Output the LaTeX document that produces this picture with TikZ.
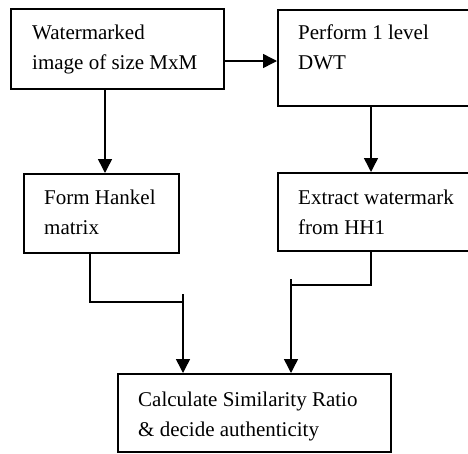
\documentclass[tikz,border=0pt]{standalone}
\usepackage{fontspec}
\setmainfont{Liberation Serif}
\usetikzlibrary{arrows.meta,calc}
\begin{document}
\begin{tikzpicture}[x=1pt,y=-1pt,
  box/.style={draw=black,line width=1.7pt,rectangle,inner sep=0pt,anchor=north west},
  txt/.style={inner sep=0pt,anchor=north west,align=left,font=\fontsize{21}{30}\selectfont},
  conn/.style={draw=black,line width=1.5pt},
  arr/.style={conn,-{Triangle[length=14pt,width=14pt]}}]
\clip (0,0) rectangle (468,453);
\fill[white] (0,0) rectangle (468,453);
% boxes
\node[box,minimum width=213pt,minimum height=80pt] (b1) at (10,8) {};
\node[box,minimum width=210pt,minimum height=96pt] (b2) at (277,9) {};
\node[box,minimum width=155pt,minimum height=79pt] (b4) at (23,173) {};
\node[box,minimum width=210pt,minimum height=78pt] (b3) at (277,172) {};
\node[box,minimum width=273pt,minimum height=78pt] (b5) at (117,373) {};
% texts
\node[txt] (t1) at (32,25) {Watermarked\\image of size MxM};
\node[txt] (t2) at (298,25) {Perform 1 level\\DWT};
\node[txt] (t4) at (44,190) {Form Hankel\\matrix};
\node[txt] (t3) at (298,190) {Extract watermark\\from HH1};
\node[txt] (t5) at (138,392) {Calculate Similarity Ratio\\\& decide authenticity};
% guide coordinates
\coordinate (ya) at (0,61);
\coordinate (xa) at (105,0);
\coordinate (xb) at (371,0);
\coordinate (xc) at (90,0);
\coordinate (j1) at (183,302);
\coordinate (j1t) at (183,294);
\coordinate (j2) at (291,285);
\coordinate (j2t) at (291,279);
% connectors
\draw[arr] (b1.east |- ya) -- (b2.west |- ya);
\draw[arr] (b1.south -| xa) -- (b4.north -| xa);
\draw[arr] (b2.south -| xb) -- (b3.north -| xb);
\draw[conn] (b4.south -| xc) -- (j1 -| xc) -- (j1);
\draw[arr] (j1t) -- (j1t |- b5.north);
\draw[conn] (b3.south -| xb) -- (j2 -| xb) -- (j2);
\draw[arr] (j2t) -- (j2t |- b5.north);
\end{tikzpicture}
\end{document}
